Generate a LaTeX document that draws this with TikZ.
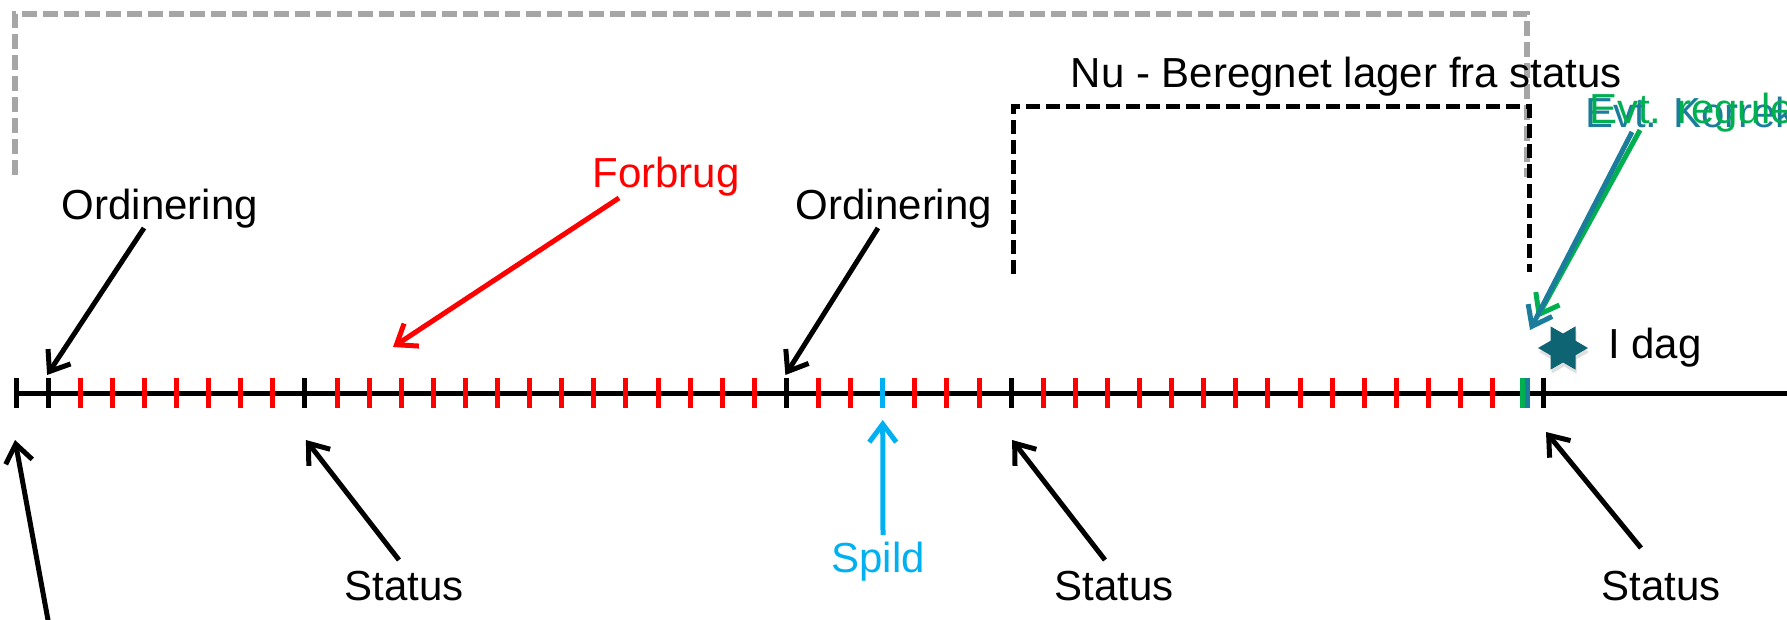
\documentclass[tikz,border=0pt]{standalone}
\usepackage{fontspec}
\setmainfont{Liberation Sans}
\usetikzlibrary{arrows.meta,calc,shapes.geometric,shadows}

\definecolor{spildblue}{HTML}{00B0F0}
\definecolor{framegray}{HTML}{A6A6A6}
\definecolor{korrteal}{HTML}{1B7D9B}
\definecolor{regugreen}{HTML}{00B050}
\definecolor{stardark}{HTML}{0E6473}

\tikzset{
    lbl/.style={inner sep=0pt,anchor=base,font=\fontsize{42}{50}\selectfont},
    tickmark/.style={line width=5pt},
    pointer/.style={line width=5pt,-{Straight Barb[length=18pt,width=27pt]}},
}

\begin{document}
\begin{tikzpicture}[x=1pt,y=-1pt]
    \useasboundingbox (0,0) rectangle (1787,620);
    \clip (0,0) rectangle (1787,620);

    % frames
    \draw[framegray,line width=6pt,dash pattern=on 15pt off 6pt] (15,175) -- (15,14) -- (1527,14) -- (1527,177);
    \draw[line width=5pt,dash pattern=on 14pt off 6pt] (1013,274) -- (1013,107) -- (1529,107) -- (1529,272);

    % time line
    \draw[line width=5pt] (16,393) -- (1787,393);
    \foreach \i in {0,...,47}
      \coordinate (t\i) at ({16+32.1*\i},393);
    \coordinate (tnow) at (1543,393);

    \foreach \a/\b in {2/8,10/23,25/26,28/30,32/46}
      \foreach \i in {\a,...,\b}
        \draw[tickmark,red] (t\i) ++(0,-15) -- ++(0,30);
    \foreach \i in {0,1,9,24,31}
      \draw[tickmark] (t\i) ++(0,-15) -- ++(0,30);
    \draw[tickmark] (tnow) ++(0,-15) -- ++(0,30);
    \draw[tickmark,spildblue] (t27) ++(0,-15) -- ++(0,30);
    \draw[tickmark,regugreen] (t47) ++(-2.5,-15) -- ++(0,30);
    \draw[tickmark,korrteal] (t47) ++(2.5,-15) -- ++(0,30);

    % labels
    \node[lbl] (ord1) at (160,220) {Ordinering};
    \node[lbl] (ord2) at (894,220) {Ordinering};
    \node[lbl,red] (forbrug) at (666,188) {Forbrug};
    \node[lbl,anchor=base east] (nu) at (1622,88) {Nu - Beregnet lager fra status};
    \node[lbl,anchor=base west,korrteal] (korr) at (1585,128) {Evt. Korrektion};
    \node[lbl,anchor=base west,regugreen] (regu) at (1589,124) {Evt. regulering};
    \node[lbl,anchor=base west] (idag) at (1608,358) {I dag};
    \node[star,star points=6,star point ratio=1.73,shape border rotate=90,
          fill=stardark,inner sep=0pt,minimum size=50pt,
          drop shadow={shadow xshift=1pt,shadow yshift=-4pt,opacity=0.25}] (star) at (1563,348) {};
    \node[lbl] (st1) at (404,600) {Status};
    \node[lbl] (st2) at (1114,600) {Status};
    \node[lbl] (st3) at (1661,600) {Status};
    \node[lbl,spildblue] (spild) at (878,572) {Spild};

    \coordinate (fbtip) at (393,347);
    \coordinate (korrtip) at (1530,330);
    \coordinate (regutip) at (1537,318);
    \coordinate (offbelow) at (53.5,650);

    % arrows
    \draw[pointer] ($(ord1.base)+(-16,8)$) -- ($(t1)+(-1,-18)$);
    \draw[pointer] ($(ord2.base)+(-16,8)$) -- ($(t24)+(-1,-18)$);
    \draw[pointer,red] ($(forbrug.base)+(-47,10)$) -- (fbtip);
    \draw[pointer] ($(st1.base)+(-5,-40)$) -- ($(t9)+(1,47)$);
    \draw[pointer] ($(st2.base)+(-9,-40)$) -- ($(t31)+(1,47)$);
    \draw[pointer] ($(st3.base)+(-20,-52)$) -- ($(tnow)+(3,39)$);
    \draw[pointer] (offbelow) -- ($(t0)+(-1,47)$);
    \draw[pointer,spildblue] ($(spild.base)+(5,-37)$) -- ($(t27)+(0,27)$);
    \draw[pointer,regugreen] ($(regu.base west)+(51,6)$) -- (regutip);
    \draw[pointer,korrteal] ($(korr.base west)+(47,4)$) -- (korrtip);
\end{tikzpicture}
\end{document}
